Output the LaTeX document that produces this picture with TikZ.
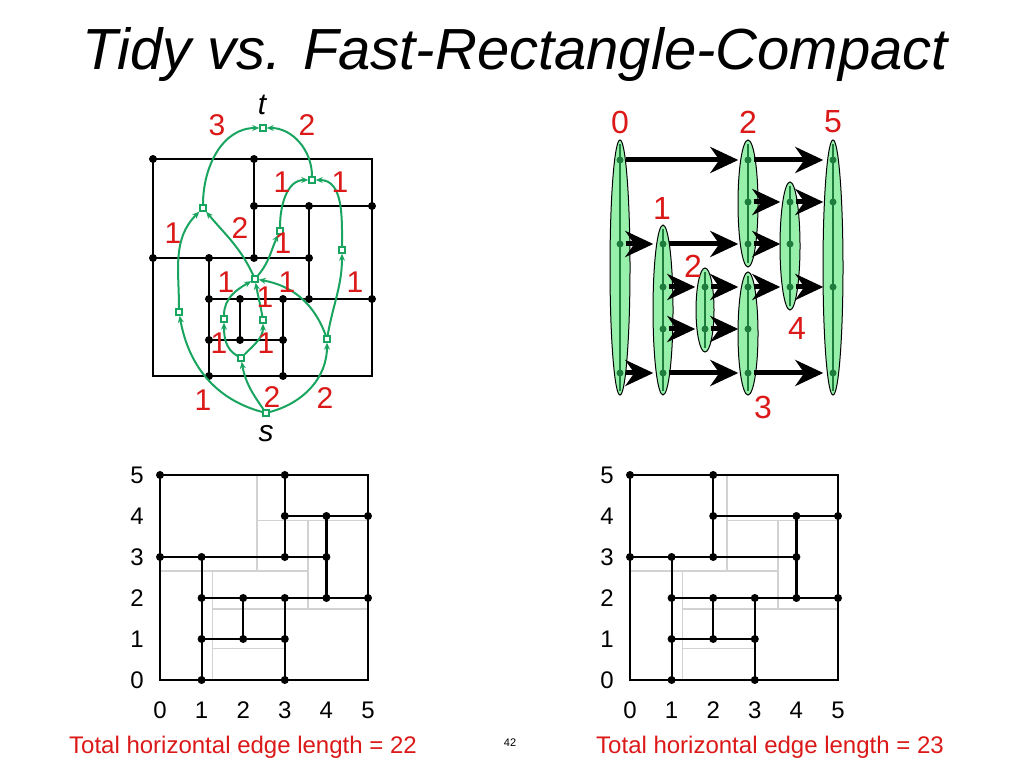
\documentclass[tikz,border=0pt]{standalone}
\usepackage{fontspec}
\setmainfont{Liberation Sans}
\usetikzlibrary{arrows.meta}
\definecolor{gr}{RGB}{25,165,95}
\definecolor{lgr}{RGB}{150,240,170}
\definecolor{dgr}{RGB}{30,125,60}
\definecolor{rd}{RGB}{220,25,25}
\definecolor{lg}{RGB}{210,210,210}
\tikzset{
 sq/.style={draw=gr,fill=white,line width=1.5pt,minimum size=6pt,inner sep=0pt},
 gedge/.style={draw=gr,line width=2pt,-{Stealth[length=7pt,width=6pt]}},
 lab/.style={text=rd,font=\fontsize{30}{30}\selectfont,inner sep=0pt},
 rlab/.style={text=rd,font=\fontsize{32}{32}\selectfont,inner sep=0pt},
 ax/.style={font=\fontsize{24}{24}\selectfont,inner sep=0pt},
 dot/.style={circle,fill=black,inner sep=0pt,minimum size=8pt},
 gdot/.style={circle,fill=dgr,inner sep=0pt,minimum size=7pt},
 blk/.style={line width=2.2pt},
 ell/.style={draw=black,fill=lgr,line width=1pt},
 bigarr/.style={line width=5pt,-{Stealth[length=28pt,width=26pt,inset=9pt]},shorten >=6pt,shorten <=2pt},
}
\newcommand{\gridbg}{%
 \draw[lg,line width=1.8pt] (2.33,5)--(2.33,2.66) (2.33,3.89)--(5,3.89) (0,2.66)--(3.55,2.66)
   (3.55,3.89)--(3.55,1.73) (1.26,2.66)--(1.26,0) (1.26,1.73)--(5,1.73) (1.26,0.77)--(2.97,0.77);}
\begin{document}
\begin{tikzpicture}[x=1pt,y=1pt]
\useasboundingbox (0,0) rectangle (1024,768);
\fill[white] (0,0) rectangle (1024,768);
\node[font=\fontsize{58}{58}\selectfont\itshape] (title) at (515,713) {Tidy vs. Fast-Rectangle-Compact};

% ---------- top-left planar graph
\draw[blk] (153,392) rectangle (372,609);
\draw[blk] (254,609)--(254,510) (254,562)--(372,562) (309,562)--(309,469)
 (153,510)--(309,510) (209,510)--(209,392) (209,469)--(372,469)
 (240,469)--(240,428) (283,469)--(283,392) (209,428)--(283,428);
\foreach \p in {(153,609),(254,609),(254,562),(309,562),(372,562),(153,510),(209,510),(254,510),(309,510),
 (209,469),(240,469),(283,469),(309,469),(372,469),(209,428),(240,428),(283,428),(209,392),(283,392)}
 \fill \p circle (4pt);
\node[sq] (t) at (263,640) {};
\node[sq] (s) at (266,355) {};
\node[sq] (a) at (203,560) {};
\node[sq] (b) at (312,588) {};
\node[sq] (c) at (280,537) {};
\node[sq] (d) at (342,518) {};
\node[sq] (e) at (255,489) {};
\node[sq] (f) at (179,456) {};
\node[sq] (g) at (224,449) {};
\node[sq] (h) at (263,448) {};
\node[sq] (i) at (241,410) {};
\node[sq] (j) at (327,429) {};
\draw[gedge] (s) to[out=165,in=-80] (f);
\draw[gedge] (f) to[out=90,in=-135] (a);
\draw[gedge] (a) to[out=90,in=180] (t);
\draw[gedge] (b) to[out=90,in=0] (t);
\draw[gedge] (e) to[out=115,in=-50] (a);
\draw[gedge] (c) to[out=90,in=180] (b);
\draw[gedge] (d) to[out=90,in=0] (b);
\draw[gedge] (s) to[out=125,in=-80] (i);
\draw[gedge] (s) to[out=15,in=-90] (j);
\draw[gedge] (i) to[out=150,in=-90] (g);
\draw[gedge] (i) to[out=45,in=-90] (h);
\draw[gedge] (g) to[out=90,in=-150] (e);
\draw[gedge] (h) to[out=100,in=-80] (e);
\draw[gedge] (j) to[out=110,in=-10] (e);
\draw[gedge] (j) to[out=80,in=-90] (d);
\draw[gedge] (e) to[out=50,in=-115] (c);
\node[font=\fontsize{30}{30}\selectfont\itshape] (tl) at (262,663) {t};
\node[font=\fontsize{30}{30}\selectfont\itshape] (sl) at (266,334) {s};
\foreach \x/\y/\t in {203/368/1,173/535/1,217/643/3,307/643/2,240/540/2,282/586/1,340/586/1,
 272/371/2,325/370/2,219/425/1,266/425/1,226/486/1,287/486/1,265/471/1,355/486/1,283/525/1}
 \node[lab] at (\x,\y) {\t};

% ---------- top-right
\foreach \n/\x/\cy/\hh/\hw in {E0/620/500.5/127.5/10,E1/663/458/85/10,E2/705/458/42/9,E3/748/564.5/63.5/10,
 E4/748/434.5/61.5/10,E5/790/522/64/10,E6/833/500.5/127.5/10}{
 \draw[ell] (\x,\cy) ellipse ({\hw pt} and {\hh pt});
 \draw[dgr,line width=2pt] (\x,\cy+\hh-4)--(\x,\cy-\hh+4);}
\foreach \n/\x/\y in {a0/620/608,a1/620/524,a2/620/395,b0/663/524,b1/663/481,b2/663/439,b3/663/395,
 c0/705/481,c1/705/439,d0/748/608,d1/748/566,d2/748/524,d3/748/481,d4/748/439,d5/748/395,
 e0/790/566,e1/790/524,e2/790/481,f0/833/608,f1/833/566,f2/833/481,f3/833/395}
 \node[gdot] (\n) at (\x,\y) {};
\foreach \u/\v in {a0/d0,d0/f0,d1/e0,e0/f1,a1/b0,b0/d2,d2/e1,b1/c0,c0/d3,d3/e2,e2/f2,b2/c1,c1/d4,a2/b3,b3/d5,d5/f3}
 \draw[bigarr] (\u) -- (\v);
\foreach \x/\y/\t in {620/646/0,748/646/2,833/646/5,662/560/1,693/502/2,797/440/4,763/361/3}
 \node[rlab] at (\x,\y) {\t};

% ---------- bottom-left
\begin{scope}[shift={(160,88)},x=41.6pt,y=41pt]
\gridbg
\draw[blk] (0,0) rectangle (5,5);
\draw[blk] (3,5)--(3,3) (3,4)--(5,4) (0,3)--(4,3) (4,4)--(4,2) (1,2)--(5,2) (1,3)--(1,0)
 (1,1)--(3,1) (2,2)--(2,1) (3,2)--(3,0);
\foreach \p in {(0,5),(3,5),(3,4),(4,4),(5,4),(0,3),(1,3),(3,3),(4,3),(1,2),(2,2),(3,2),(4,2),(5,2),(1,1),(2,1),(3,1),(1,0),(3,0)}
 \fill \p circle (4pt);
\foreach \k in {0,...,5}{\node[ax] at (-0.55,\k) {\k}; \node[ax] at (\k,-0.73) {\k};}
\end{scope}
\node[font=\fontsize{24}{24}\selectfont,text=rd] (tl1) at (243,21) {Total horizontal edge length = 22};

% ---------- bottom-right
\begin{scope}[shift={(630,88)},x=41.6pt,y=41pt]
\gridbg
\draw[blk] (0,0) rectangle (5,5);
\draw[blk] (2,5)--(2,3) (2,4)--(5,4) (0,3)--(4,3) (4,4)--(4,2) (1,2)--(5,2) (1,3)--(1,0)
 (1,1)--(3,1) (2,2)--(2,1) (3,2)--(3,0);
\foreach \p in {(0,5),(2,5),(2,4),(4,4),(5,4),(0,3),(1,3),(2,3),(4,3),(1,2),(2,2),(3,2),(4,2),(5,2),(1,1),(2,1),(3,1),(1,0),(3,0)}
 \fill \p circle (4pt);
\foreach \k in {0,...,5}{\node[ax] at (-0.55,\k) {\k}; \node[ax] at (\k,-0.73) {\k};}
\end{scope}
\node[font=\fontsize{24}{24}\selectfont,text=rd] (tl2) at (770,21) {Total horizontal edge length = 23};
\node[font=\fontsize{11}{11}\selectfont] (pg) at (510,25) {42};
\end{tikzpicture}
\end{document}
